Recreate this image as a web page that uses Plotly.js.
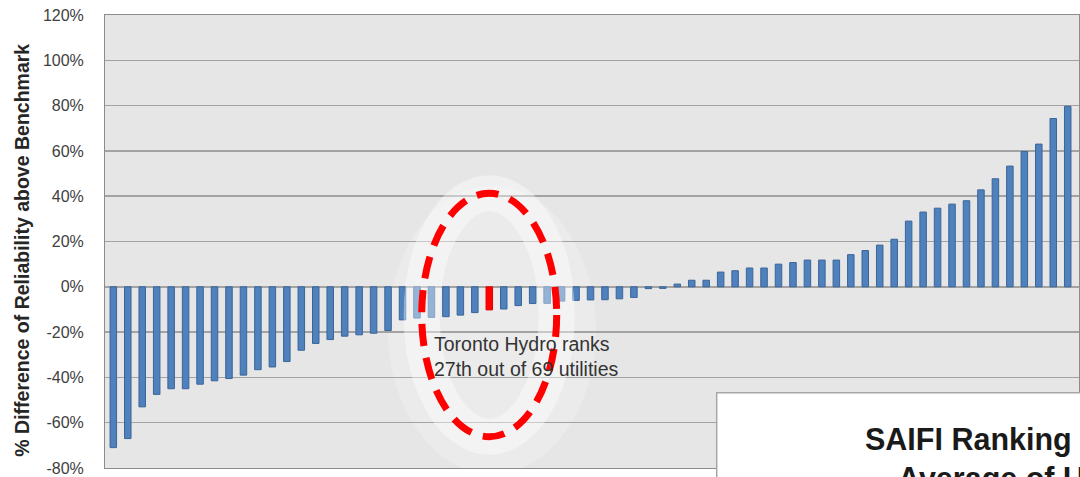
<!DOCTYPE html>
<html>
<head>
<meta charset="utf-8">
<script src="https://cdn.plot.ly/plotly-3.0.1.min.js"></script>
<style>html,body{margin:0;padding:0;background:#fff;}#chart{width:1080px;height:477px;}</style>
</head>
<body>
<div id="chart"></div>
<script>
// ---- data ----
const utilities = Array.from({length: 67}, (_, i) => 'Utility ' + (i + 1));
const pctAboveBenchmark = [
  -71, -67, -53, -47.5, -45, -45, -43, -41.5, -40.5, -39,
  -36.6, -35.4, -33, -28, -25, -23.3, -21.8, -21.2, -20.5, -19.3,
  -14.6, -13.8, -13.5, -13.2, -12.5, -11.4, -10.2, -9.8, -8.3, -7.4,
  -7.3, -6.3, -6.0, -5.8, -5.7, -5.3, -4.7, -0.8, -0.7, 1.2,
  2.9, 2.9, 6.5, 7.1, 8.3, 8.3, 10, 10.7, 11.8, 11.8,
  11.8, 14.2, 16, 18.4, 21, 29, 33, 34.7, 36.5, 38,
  42.8, 47.7, 53.3, 59.7, 63, 74.3, 79.7
];
const highlightName = 'Utility 27';   // Toronto Hydro
const yTickVals = [-80, -60, -40, -20, 0, 20, 40, 60, 80, 100, 120];
const yTickText = ['-80%', '-60%', '-40%', '-20%', '0%', '20%', '40%', '60%', '80%', '100%', '120%'];
const yTitle = '% Difference of Reliability above Benchmark';
const calloutText = 'Toronto Hydro ranks<br>27th out of 69 utilities';
const boxLine1 = 'SAIFI Ranking';
const boxLine2 = 'Average of Utilities';

// ---- styling ----
const barColors = utilities.map(u => u === highlightName ? '#ff0000' : '#4f81bd');
const barLines = utilities.map(u => u === highlightName ? '#e00000' : '#3b6498');

// pixel -> paper helpers (plot area 105..1079 x 15..468)
const PL = 105, PR = 1079, PT = 15, PB = 468;
const px = v => (v - PL) / (PR - PL);
const py = v => (PB - v) / (PB - PT);

const trace = {
  type: 'bar',
  x: utilities.map((_, i) => i),
  y: pctAboveBenchmark,
  width: 0.45,
  marker: {color: barColors, line: {color: barLines, width: 1}},
  hoverinfo: 'y'
};

const layout = {
  width: 1080, height: 477,
  margin: {l: PL, r: 1080 - PR, t: PT, b: 477 - PB, pad: 0},
  paper_bgcolor: '#ffffff',
  plot_bgcolor: '#e6e6e6',
  showlegend: false,
  font: {family: 'Liberation Sans, Arial, sans-serif'},
  xaxis: {
    range: [-0.574, 66.78],
    showticklabels: false, ticks: '', showgrid: false, zeroline: false,
    showline: true, mirror: true, linecolor: '#8c8c8c', linewidth: 1
  },
  yaxis: {
    range: [-80, 120],
    tickvals: yTickVals, ticktext: yTickText,
    tickfont: {size: 16, color: '#404040', family: 'Liberation Sans, Arial, sans-serif'},
    ticks: '', ticklabelstandoff: 17,
    showgrid: true, gridcolor: '#a3a3a3', gridwidth: 1.5,
    zeroline: true, zerolinecolor: '#a3a3a3', zerolinewidth: 1.5,
    showline: true, mirror: true, linecolor: '#8c8c8c', linewidth: 1
  },
  shapes: [
    // soft light halo around the callout
    {type: 'circle', xref: 'paper', yref: 'paper', layer: 'below',
     x0: px(388), x1: px(596), y0: py(474), y1: py(186),
     fillcolor: 'rgba(255,255,255,0.22)', line: {width: 0}},
    // white glow along the ring
    {type: 'circle', xref: 'paper', yref: 'paper', layer: 'above',
     x0: px(421.7), x1: px(556.7), y0: py(436.7), y1: py(193.3),
     fillcolor: 'rgba(0,0,0,0)', line: {color: 'rgba(255,255,255,0.4)', width: 36}},
    // red dashed ring
    {type: 'circle', xref: 'paper', yref: 'paper', layer: 'above',
     x0: px(421.7), x1: px(556.7), y0: py(436.7), y1: py(193.3),
     fillcolor: 'rgba(0,0,0,0)', line: {color: '#ff0000', width: 7, dash: '22px,12px'}},
    // white box bottom right
    {type: 'rect', xref: 'paper', yref: 'paper', layer: 'above',
     x0: px(716.7), x1: px(1120), y0: py(520), y1: py(392.7),
     fillcolor: '#ffffff', line: {color: '#a6a6a6', width: 1.5}}
  ],
  annotations: [
    {xref: 'paper', yref: 'paper', x: px(21.7), y: py(250), textangle: -90,
     xanchor: 'center', yanchor: 'middle', showarrow: false, text: yTitle,
     font: {size: 19.5, color: '#262626', family: 'Liberation Sans, Arial, sans-serif', weight: 'bold'}},
    {xref: 'paper', yref: 'paper', x: px(526.5), y: py(356), xanchor: 'center', yanchor: 'middle',
     showarrow: false, text: calloutText, align: 'left',
     font: {size: 19.5, color: '#333333', family: 'Liberation Sans, Arial, sans-serif'}},
    {xref: 'paper', yref: 'paper', x: px(863), y: py(439.3), xanchor: 'left', yanchor: 'middle',
     showarrow: false, text: '<b>' + boxLine1 + '</b>',
     font: {size: 30.5, color: '#1a1a1a', family: 'Liberation Sans, Arial, sans-serif'}},
    {xref: 'paper', yref: 'paper', x: px(896), y: py(478), xanchor: 'left', yanchor: 'middle',
     showarrow: false, text: '<b>' + boxLine2 + '</b>',
     font: {size: 30.5, color: '#1a1a1a', family: 'Liberation Sans, Arial, sans-serif'}}
  ]
};

Plotly.newPlot('chart', [trace], layout, {displayModeBar: false, staticPlot: true});
</script>
</body>
</html>
